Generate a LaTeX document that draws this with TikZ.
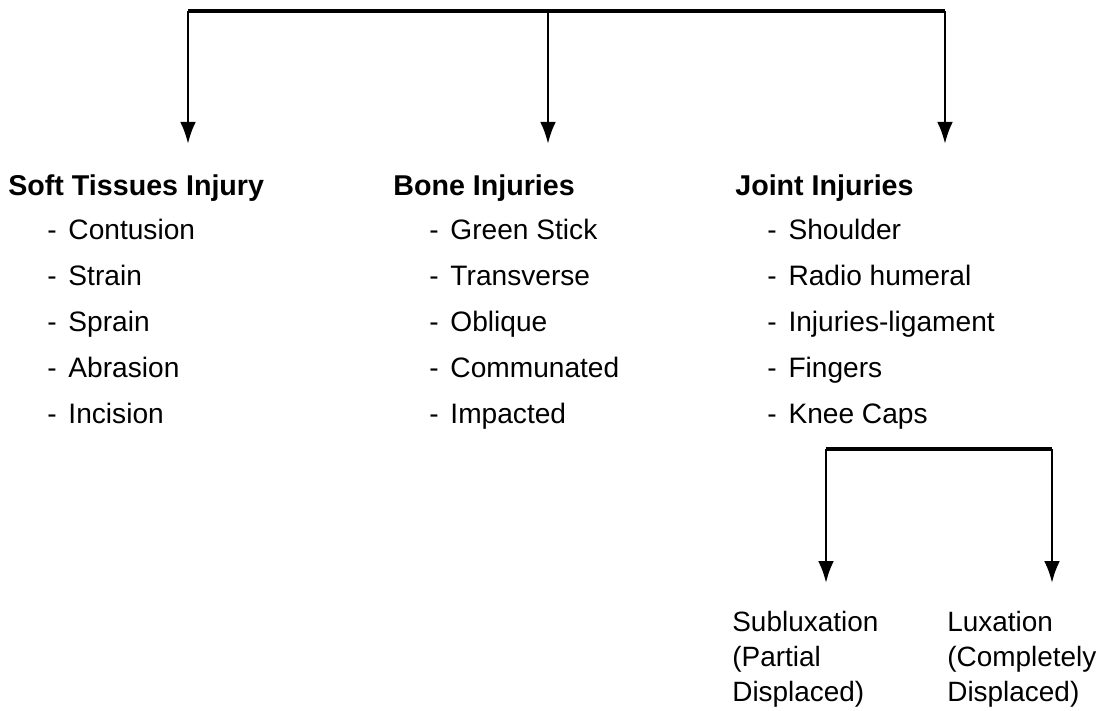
\documentclass[tikz,border=0pt]{standalone}
\usepackage{fontspec}
\setmainfont{Liberation Sans}
\usetikzlibrary{arrows.meta,positioning}

\begin{document}
\begin{tikzpicture}[
      x=0.02cm, y=-0.02cm,
      >={Latex[length=12.5pt,width=9pt]},
      headLabel/.style={anchor=base west, inner sep=0pt,
        font=\fontsize{16.3}{19}\selectfont\bfseries},
      itemLabel/.style={anchor=base west, inner sep=0pt,
        font=\fontsize{16}{19}\selectfont},
      subLabel/.style={anchor=north west, inner sep=0pt, align=left,
        font=\fontsize{15.9}{19.9}\selectfont},
      busLine/.style={-, line width=1.9pt},
      arrowLine/.style={->, line width=1.5pt}
    ]
      \useasboundingbox (0,0) rectangle (1098,710);

      % ---------- Headings ----------
      \node[headLabel] (soft)  at (8,195)   {Soft Tissues Injury};
      \node[headLabel] (bone)  at (393,195) {Bone Injuries};
      \node[headLabel] (joint) at (735,195) {Joint Injuries};

      % ---------- Items ----------
      \foreach \txt [count=\i] in {Contusion, Strain, Sprain, Abrasion, Incision}
        \node[itemLabel] (soft\i) at (47, {239+(\i-1)*46}) {-\hspace{0.42em}\txt};
      \foreach \txt [count=\i] in {Green Stick, Transverse, Oblique, Communated, Impacted}
        \node[itemLabel] (bone\i) at (429, {239+(\i-1)*46}) {-\hspace{0.42em}\txt};
      \foreach \txt [count=\i] in {Shoulder, Radio humeral, Injuries-ligament, Fingers, Knee Caps}
        \node[itemLabel] (joint\i) at (767, {239+(\i-1)*46}) {-\hspace{0.42em}\txt};

      % ---------- Joint displacement ----------
      \node[subLabel] (sublux) at (732,611) {Subluxation\\(Partial\\Displaced)};
      \node[subLabel] (lux)    at (947,611) {Luxation\\(Completely\\Displaced)};

      % ---------- Top bus ----------
      \coordinate (busSoft)  at (188,11);
      \coordinate (busBone)  at (548,11);
      \coordinate (busJoint) at (945,11);
      \draw[busLine] (busSoft) -- (busJoint);
      \draw[arrowLine, shorten >=0.6cm] (busSoft)  -- (busSoft |- soft.north);
      \draw[arrowLine, shorten >=0.6cm] (busBone)  -- (busBone |- bone.north);
      \draw[arrowLine, shorten >=0.6cm] (busJoint) -- (busJoint |- joint.north);

      % ---------- Sub bus ----------
      \coordinate (subBusL) at (826,449);
      \coordinate (subBusR) at (1052,449);
      \draw[busLine] (subBusL) -- (subBusR);
      \draw[arrowLine, shorten >=0.56cm] (subBusL) -- (subBusL |- sublux.north);
      \draw[arrowLine, shorten >=0.56cm] (subBusR) -- (subBusR |- lux.north);

    \end{tikzpicture}
\end{document}
